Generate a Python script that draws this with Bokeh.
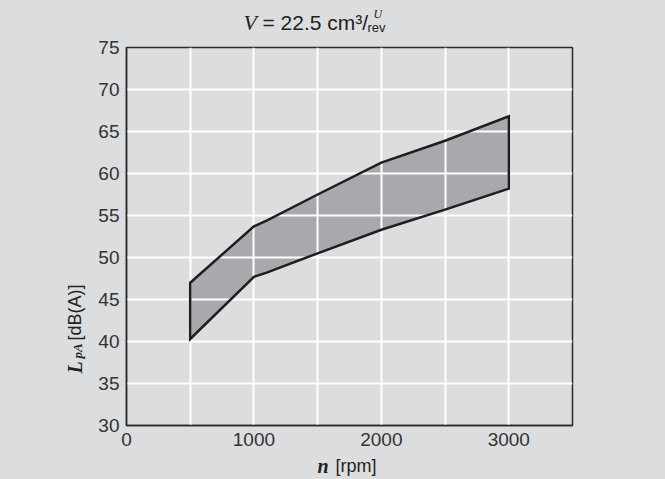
import math
from bokeh.plotting import figure
from bokeh.models import FixedTicker, Label, GlobalInlineStyleSheet
from bokeh.embed import file_html
from bokeh.resources import INLINE

# ---- data ----
speed_rpm = [500, 1000, 1100, 1500, 2000, 2500, 3000]
upper_dba = [47.0, 53.7, 54.4, 57.5, 61.3, 63.9, 66.8]
lower_dba = [40.3, 47.7, 48.2, 50.5, 53.3, 55.7, 58.2]
x_tick_labels = [0, 1000, 2000, 3000]
x_grid = [500, 1000, 1500, 2000, 2500, 3000]
y_ticks = [30, 35, 40, 45, 50, 55, 60, 65, 70, 75]

BG = "#dcdddf"
W, H = 665, 479
ML, MR, MT, MB = 126, 93, 47, 54
X0, X1, Y0, Y1 = 0, 3500, 30, 75
FW, FH = W - ML - MR, H - MT - MB

p = figure(width=W, height=H, output_backend="svg", toolbar_location=None,
           x_range=(X0, X1), y_range=(Y0, Y1),
           min_border_left=ML, min_border_right=MR,
           min_border_top=MT, min_border_bottom=MB)
p.stylesheets.append(GlobalInlineStyleSheet(css=f"body{{background-color:{BG};}}"))
p.background_fill_color = BG
p.border_fill_color = BG
p.outline_line_color = "#2b2b2b"
p.outline_line_width = 1.5

for ax in (p.xaxis[0], p.yaxis[0]):
    ax.axis_line_color = "#2b2b2b"
    ax.axis_line_width = 1.5
    ax.major_tick_out = 0
    ax.major_tick_in = 0
    ax.minor_tick_out = 0
    ax.minor_tick_in = 0
    ax.major_label_text_font = "Liberation Sans"
    ax.major_label_text_font_size = "19px"
    ax.major_label_text_color = "#333333"
    ax.major_label_standoff = 7

p.xaxis.ticker = FixedTicker(ticks=x_tick_labels)
p.yaxis.ticker = FixedTicker(ticks=y_ticks)
p.xgrid.ticker = FixedTicker(ticks=x_grid)
p.ygrid.ticker = FixedTicker(ticks=y_ticks[1:-1])
for g in (p.xgrid[0], p.ygrid[0]):
    g.grid_line_color = "white"
    g.grid_line_width = 2

xs = list(speed_rpm) + list(reversed(speed_rpm)) + [speed_rpm[0]]
ys = list(upper_dba) + list(reversed(lower_dba)) + [upper_dba[0]]
p.patch(xs, ys, fill_color="#a8a9ac", line_color=None, level="image")
p.patch(xs, ys, fill_color=None, line_color="#1e1e1e",
        line_width=2.5, line_join="miter", level="glyph")


def lab(side, px, py, text, font="Liberation Sans", size="19px", style="normal", angle=0.0):
    """Text placed by pixel offset from the frame's lower-left corner (converted
    through the frame scale), held in a side panel so it is not clipped."""
    x = X0 + px * (X1 - X0) / FW
    y = Y0 + py * (Y1 - Y0) / FH
    p.add_layout(Label(x=x, y=y, x_units="data", y_units="data", text=text,
                       text_font=font, text_font_size=size, text_font_style=style,
                       text_color="#222222", text_baseline="alphabetic",
                       text_align="left", angle=angle), side)

# title
lab("above", 136, 403, "= 22.5 cm³/", size="21px")
lab("above", 247, 412, "U", font="Liberation Serif", size="12px", style="italic")
lab("below", 241, 398, "rev", size="13px")
lab("right", 117, 403, "V", font="Liberation Serif", size="22px", style="italic")

# y axis label (rotated)
lab("left", -52, 52, "L", font="Liberation Serif", size="20px", style="bold italic", angle=math.pi / 2)
lab("left", -49, 67, "pA", font="Liberation Serif", size="13px", style="bold italic", angle=math.pi / 2)
lab("left", -52, 85, "[dB(A)]", size="18px", angle=math.pi / 2)

# x axis label
lab("right", 191, -40, "n", font="Liberation Serif", size="20px", style="bold italic")
lab("right", 209, -40, "[rpm]", size="18px")

open("out.html", "w").write(file_html(p, INLINE))
